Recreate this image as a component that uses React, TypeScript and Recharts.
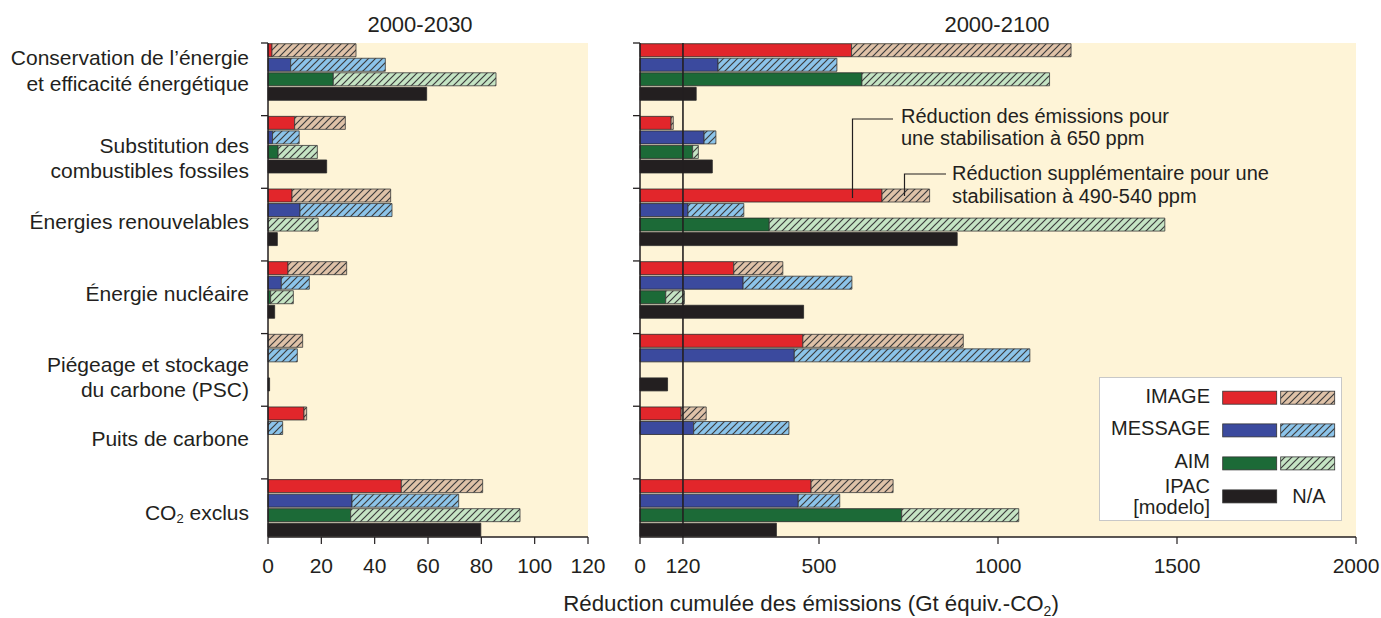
import React from "react";
import {
  BarChart, Bar, XAxis, YAxis, CartesianGrid, Cell, ReferenceLine, Legend
} from "recharts";

// Categories (label lines) and models
const categories = [
  ["Conservation de l’énergie", "et efficacité énergétique"],
  ["Substitution des", "combustibles fossiles"],
  ["Énergies renouvelables"],
  ["Énergie nucléaire"],
  ["Piégeage et stockage", "du carbone (PSC)"],
  ["Puits de carbone"],
  ["CO2 exclus"]
];
const models = ["IMAGE", "MESSAGE", "AIM", "IPAC"];

// 2000-2030: reduction for 650 ppm (solid) + additional for 490-540 ppm (hatched), Gt CO2-eq
const image2030 = [1.5, 10, 9, 7.5, null, 13.5, 50];
const image2030Extra = [31.5, 19, 37, 22, 13, 1, 30.5];
const message2030 = [8.5, 1.7, 12, 5, null, null, 31.5];
const message2030Extra = [35.5, 10, 34.5, 10.5, 11, 5.5, 40];
const aim2030 = [24.5, 3.8, null, 1, null, null, 31];
const aim2030Extra = [61, 14.7, 18.8, 8.5, null, null, 63.5];
const ipac2030 = [59.5, 22, 3.5, 2.5, 0.6, null, 79.8];

// 2000-2100
const image2100 = [591, 87, 676, 262, 455, 115, 478];
const image2100Extra = [613, 6, 133, 137, 448, 70, 229];
const message2100 = [218, 179, 134, 288, 431, 150, 442];
const message2100Extra = [332, 33, 156, 304, 658, 266, 116];
const aim2100 = [620, 147, 361, 72, null, null, 731];
const aim2100Extra = [524, 16, 1105, 52, null, null, 327];
const ipac2100 = [157, 202, 886, 457, 77, null, 381];

const ticks2030 = [0, 20, 40, 60, 80, 100, 120];
const ticks2100 = [0, 120, 500, 1000, 1500, 2000];

const SOLID = ["#e2262b", "#3b4a9e", "#1c6a37", "#231f20"];
const HATCH = ["hatchTan", "hatchBlue", "hatchGreen"];
const HATCH_BG = ["#dfc2a8", "#8cc4ea", "#c5e4c4"];
const INK = "#231f20";
const CREAM = "#fef4d7";

const PLOT_TOP = 43;
const PLOT_BOTTOM = 537;
const ROWS = categories.length * 5 - 1;
const BAND = (PLOT_BOTTOM - PLOT_TOP) / ROWS;
const LABEL_DY = [27, 42, 33, 32, 43, 32, 33];
const FONT = "'Liberation Sans', Arial, Helvetica, sans-serif";

type Row = { key: string; cat: number; model: number; base: number | null; extra: number | null };

const buildRows = (base: (number | null)[][], extra: (number | null)[][]): Row[] => {
  const rows: Row[] = [];
  categories.forEach((_, ci) => {
    models.forEach((_m, mi) => {
      rows.push({
        key: `${ci}-${mi}`,
        cat: ci,
        model: mi,
        base: base[mi][ci],
        extra: extra[mi] ? extra[mi][ci] : null
      });
    });
    if (ci < categories.length - 1) {
      rows.push({ key: `${ci}-gap`, cat: ci, model: -1, base: null, extra: null });
    }
  });
  return rows;
};

const rows2030 = buildRows(
  [image2030, message2030, aim2030, ipac2030],
  [image2030Extra, message2030Extra, aim2030Extra]
);
const rows2100 = buildRows(
  [image2100, message2100, aim2100, ipac2100],
  [image2100Extra, message2100Extra, aim2100Extra]
);

const CategoryTick = (props: any) => {
  const { x, y, payload, showLabel } = props;
  const [c, part] = String(payload.value).split("-");
  if (part !== "0") return null;
  const ci = Number(c);
  const top = y - BAND / 2;
  const mid = top + LABEL_DY[ci];
  const lines = categories[ci];
  return (
    <g>
      <line x1={x - 7} x2={x} y1={top} y2={top} stroke={INK} strokeWidth={1.3} />
      {showLabel && (
        <text x={x - 19} y={mid} textAnchor="end" fontSize={21} fill={INK} dominantBaseline="central">
          {lines.map((ln, i) => {
            const ly = mid + (i - (lines.length - 1) / 2) * 25.5;
            if (ln.startsWith("CO2")) {
              return (
                <tspan key={i} x={x - 19} y={ly}>
                  CO<tspan fontSize={13} dy={6}>2</tspan>
                  <tspan dy={-6}> exclus</tspan>
                </tspan>
              );
            }
            return (
              <tspan key={i} x={x - 19} y={ly}>{ln}</tspan>
            );
          })}
        </text>
      )}
    </g>
  );
};

const ValueTick = (props: any) => {
  const { x, y, payload } = props;
  return (
    <text x={x} y={y} dy="0.71em" textAnchor="middle" fontSize={21} fill={INK}>
      {payload.value}
    </text>
  );
};

const ModelLegend = () => (
  <svg width={243} height={144} style={{ display: "block", fontFamily: FONT }}>
    <rect x={0.5} y={0.5} width={242} height={143} fill="#ffffff" stroke="#c8c8c8" />
    {models.map((m, i) => {
      const cy = [20.7, 53.4, 86.4, 119.4][i];
      return (
        <g key={m}>
          {m === "IPAC" ? (
            <text x={111} textAnchor="end" fontSize={20} fill={INK}>
              <tspan x={111} y={109.4} dominantBaseline="central">IPAC</tspan>
              <tspan x={111} y={130.2} dominantBaseline="central">[modelo]</tspan>
            </text>
          ) : (
            <text x={111} y={cy - 2} textAnchor="end" fontSize={20} fill={INK} dominantBaseline="central">{m}</text>
          )}
          <rect x={123.7} y={cy - 6.5} width={54} height={13} fill={SOLID[i]} stroke="#333" strokeWidth={0.8} />
          {i < 3 ? (
            <rect x={181.7} y={cy - 6.5} width={54} height={13} fill={`url(#${HATCH[i]})`} stroke="#333" strokeWidth={0.8} />
          ) : (
            <text x={210} y={cy} textAnchor="middle" fontSize={20} fill={INK} dominantBaseline="central">N/A</text>
          )}
        </g>
      );
    })}
  </svg>
);

const Panel = ({ rows, domain, ticks, yWidth, width, right, showLabel, refLine, legend }: any) => (
  <BarChart
    width={width}
    height={618}
    layout="vertical"
    data={rows}
    margin={{ top: PLOT_TOP, right, bottom: 0, left: 0 }}
    barCategoryGap="5%"
  >
    <CartesianGrid fill={CREAM} horizontal={false} vertical={false} />
    <XAxis
      type="number"
      domain={domain}
      ticks={ticks}
      interval={0}
      height={81}
      tickSize={7}
      tickMargin={14}
      axisLine={{ stroke: INK, strokeWidth: 1.5 }}
      tickLine={{ stroke: INK, strokeWidth: 1.2 }}
      tick={<ValueTick />}
    />
    <XAxis xAxisId="edge" orientation="top" type="number" domain={domain} height={0} tick={false} tickLine={false} axisLine={{ stroke: "#b4b4b4", strokeWidth: 1.5 }} />
    <YAxis
      type="category"
      dataKey="key"
      width={yWidth}
      interval={0}
      tickSize={0}
      tickMargin={0}
      tickLine={false}
      axisLine={{ stroke: INK, strokeWidth: 1.5 }}
      tick={(p: any) => <CategoryTick {...p} showLabel={showLabel} />}
    />
    <YAxis yAxisId="edge" orientation="right" type="category" dataKey="key" width={0} tick={false} tickLine={false} axisLine={{ stroke: "#9a9a9a", strokeWidth: 1.5 }} />
    <Bar dataKey="base" stackId="s" stroke="#2a2a2a" strokeWidth={0.8} isAnimationActive={false}>
      {rows.map((r: Row) => (
        <Cell key={r.key} fill={r.model >= 0 ? SOLID[r.model] : "none"} />
      ))}
    </Bar>
    <Bar dataKey="extra" stackId="s" stroke="#3a3a3a" strokeWidth={0.8} isAnimationActive={false}>
      {rows.map((r: Row) => (
        <Cell key={r.key} fill={r.model >= 0 && r.model < 3 ? `url(#${HATCH[r.model]})` : "none"} />
      ))}
    </Bar>
    {refLine && <ReferenceLine x={120} stroke={INK} strokeWidth={1.6} />}
    {legend && (
      <Legend
        layout="horizontal"
        verticalAlign="middle"
        align="center"
        content={() => <ModelLegend />}
        wrapperStyle={{ left: 499, top: 377, width: 243, height: 144 }}
      />
    )}
  </BarChart>
);

export default function App() {
  return (
    <div style={{ position: "absolute", left: 0, top: 0, width: 1381, height: 618, background: "#fff", fontFamily: FONT }}>
      <svg width={0} height={0} style={{ position: "absolute" }}>
        <defs>
          {HATCH.map((id, i) => (
            <pattern key={id} id={id} patternUnits="userSpaceOnUse" width={7} height={7}>
              <rect width={7} height={7} fill={HATCH_BG[i]} />
              <path d="M-1,1 L1,-1 M0,7 L7,0 M6,8 L8,6" stroke="#3c3c3c" strokeWidth={1.2} />
            </pattern>
          ))}
        </defs>
      </svg>
      <div style={{ position: "absolute", left: 0, top: 0 }}>
        <Panel rows={rows2030} domain={[0, 120]} ticks={ticks2030} yWidth={268} width={620} right={32} showLabel />
      </div>
      <div style={{ position: "absolute", left: 600, top: 0 }}>
        <Panel rows={rows2100} domain={[0, 2000]} ticks={ticks2100} yWidth={40} width={781} right={25} showLabel={false} refLine legend />
      </div>
      <svg width={1381} height={618} style={{ position: "absolute", left: 0, top: 0, pointerEvents: "none" }}>
        <text x={420} y={31.5} textAnchor="middle" fontSize={22} fill={INK}>2000-2030</text>
        <text x={997} y={31.5} textAnchor="middle" fontSize={22} fill={INK}>2000-2100</text>
        <text x={811} y={611} textAnchor="middle" fontSize={22.3} fill={INK}>
          Réduction cumulée des émissions (Gt équiv.-CO<tspan fontSize={14} dy={5}>2</tspan><tspan dy={-5}>)</tspan>
        </text>
        <polyline points="893,119 852.5,119 852.5,198" fill="none" stroke={INK} strokeWidth={1.2} />
        <text fontSize={20} fill={INK}>
          <tspan x={901} y={123}>Réduction des émissions pour</tspan>
          <tspan x={901} y={145}>une stabilisation à 650 ppm</tspan>
        </text>
        <polyline points="946,174 904.5,174 904.5,196" fill="none" stroke={INK} strokeWidth={1.2} />
        <text fontSize={20} fill={INK}>
          <tspan x={952} y={180}>Réduction supplémentaire pour une</tspan>
          <tspan x={952} y={203}>stabilisation à 490-540 ppm</tspan>
        </text>
      </svg>
    </div>
  );
}
